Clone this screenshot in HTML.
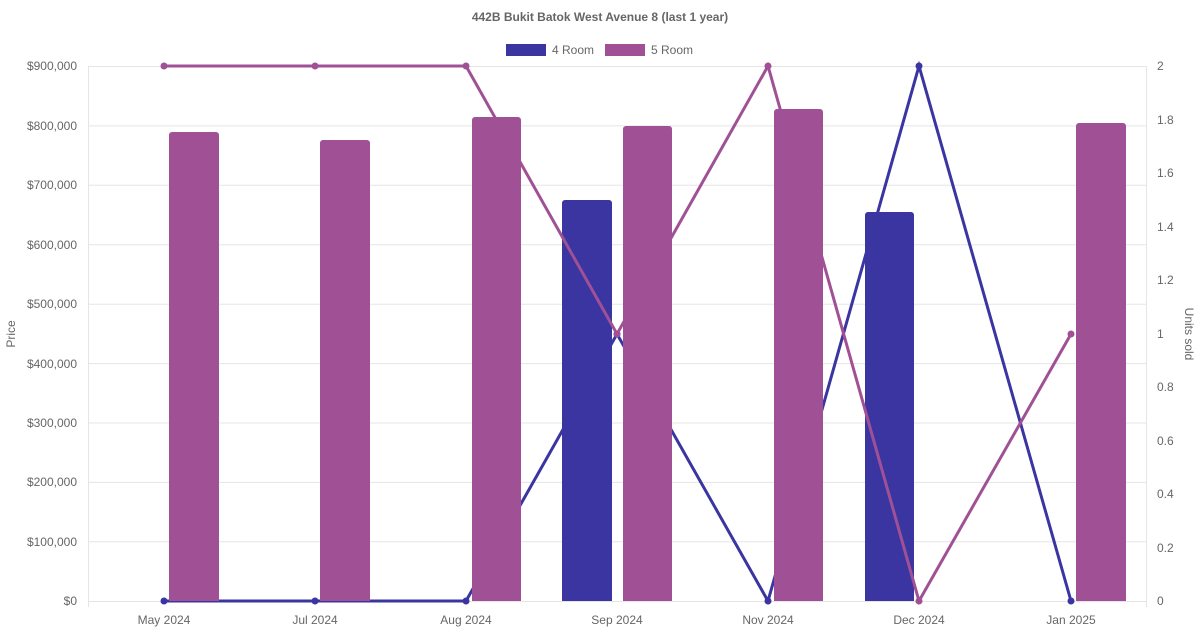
<!DOCTYPE html>
<html><head><meta charset="utf-8"><style>body{margin:0;background:#fff}svg{display:block;font-family:"Liberation Sans",sans-serif}</style></head><body>
<svg width="1200" height="630" xmlns="http://www.w3.org/2000/svg">
<text x="600" y="21" text-anchor="middle" font-size="12" font-weight="bold" fill="#666">442B Bukit Batok West Avenue 8 (last 1 year)</text>
<rect x="506" y="44" width="40" height="12" fill="#3a35a0"/><text x="552" y="54" font-size="12" fill="#666">4 Room</text>
<rect x="605" y="44" width="40" height="12" fill="#a05195"/><text x="651" y="54" font-size="12" fill="#666">5 Room</text>
<g stroke="#e5e5e5" stroke-width="1">
<line x1="88" y1="66.5" x2="1147" y2="66.5"/><line x1="88" y1="125.9" x2="1147" y2="125.9"/><line x1="88" y1="185.3" x2="1147" y2="185.3"/><line x1="88" y1="244.8" x2="1147" y2="244.8"/><line x1="88" y1="304.2" x2="1147" y2="304.2"/><line x1="88" y1="363.6" x2="1147" y2="363.6"/><line x1="88" y1="423" x2="1147" y2="423"/><line x1="88" y1="482.4" x2="1147" y2="482.4"/><line x1="88" y1="541.8" x2="1147" y2="541.8"/><line x1="88" y1="601.5" x2="1147" y2="601.5"/>
<line x1="88.5" y1="66" x2="88.5" y2="607"/><line x1="1146.5" y1="66" x2="1146.5" y2="607"/>
</g>
<g font-size="12" fill="#666" text-anchor="end">
<text x="77" y="70">$900,000</text><text x="77" y="130">$800,000</text><text x="77" y="189">$700,000</text><text x="77" y="249">$600,000</text><text x="77" y="308">$500,000</text><text x="77" y="368">$400,000</text><text x="77" y="427">$300,000</text><text x="77" y="486">$200,000</text><text x="77" y="546">$100,000</text><text x="77" y="605">$0</text>
</g>
<g font-size="12" fill="#666">
<text x="1157" y="70">2</text><text x="1157" y="124">1.8</text><text x="1157" y="177">1.6</text><text x="1157" y="231">1.4</text><text x="1157" y="284">1.2</text><text x="1157" y="338">1</text><text x="1157" y="391">0.8</text><text x="1157" y="445">0.6</text><text x="1157" y="498">0.4</text><text x="1157" y="552">0.2</text><text x="1157" y="605">0</text>
</g>
<g font-size="12" fill="#666" text-anchor="middle">
<text x="164" y="624">May 2024</text><text x="315" y="624">Jul 2024</text><text x="466" y="624">Aug 2024</text><text x="617" y="624">Sep 2024</text><text x="768" y="624">Nov 2024</text><text x="919" y="624">Dec 2024</text><text x="1071" y="624">Jan 2025</text>
</g>
<text transform="translate(15,334) rotate(-90)" font-size="12" fill="#666" text-anchor="middle">Price</text>
<text transform="translate(1185,334) rotate(90)" font-size="12" fill="#666" text-anchor="middle">Units sold</text>
<!-- 4 Room line -->
<polyline fill="none" stroke="#3a35a0" stroke-width="3" points="164,601 315,601 466,601 617,334 768,601 919,66 1071,601"/>
<g fill="#3a35a0">
<circle cx="164" cy="601" r="3.5"/><circle cx="315" cy="601" r="3.5"/><circle cx="466" cy="601" r="3.5"/><circle cx="617" cy="334" r="3.5"/><circle cx="768" cy="601" r="3.5"/><circle cx="919" cy="66" r="3.5"/><circle cx="1071" cy="601" r="3.5"/>
</g>
<!-- 4 Room bars -->
<g fill="#3a35a0">
<path d="M562,601V203a3,3 0 0 1 3-3h44a3,3 0 0 1 3,3V601z"/>
<path d="M865,601V215a3,3 0 0 1 3-3h43a3,3 0 0 1 3,3V601z"/>
</g>
<!-- 5 Room line -->
<polyline fill="none" stroke="#a05195" stroke-width="3" points="164,66 315,66 466,66 617,334 768,66 919,601 1071,334"/>
<g fill="#a05195">
<circle cx="164" cy="66" r="3.5"/><circle cx="315" cy="66" r="3.5"/><circle cx="466" cy="66" r="3.5"/><circle cx="617" cy="334" r="3.5"/><circle cx="768" cy="66" r="3.5"/><circle cx="919" cy="601" r="3.5"/><circle cx="1071" cy="334" r="3.5"/>
</g>
<!-- 5 Room bars -->
<g fill="#a05195">
<path d="M169,601V135a3,3 0 0 1 3-3h44a3,3 0 0 1 3,3V601z"/>
<path d="M320,601V143a3,3 0 0 1 3-3h44a3,3 0 0 1 3,3V601z"/>
<path d="M472,601V120a3,3 0 0 1 3-3h43a3,3 0 0 1 3,3V601z"/>
<path d="M623,601V129a3,3 0 0 1 3-3h43a3,3 0 0 1 3,3V601z"/>
<path d="M774,601V112a3,3 0 0 1 3-3h43a3,3 0 0 1 3,3V601z"/>
<path d="M1076,601V126a3,3 0 0 1 3-3h44a3,3 0 0 1 3,3V601z"/>
</g>
</svg>
</body></html>
